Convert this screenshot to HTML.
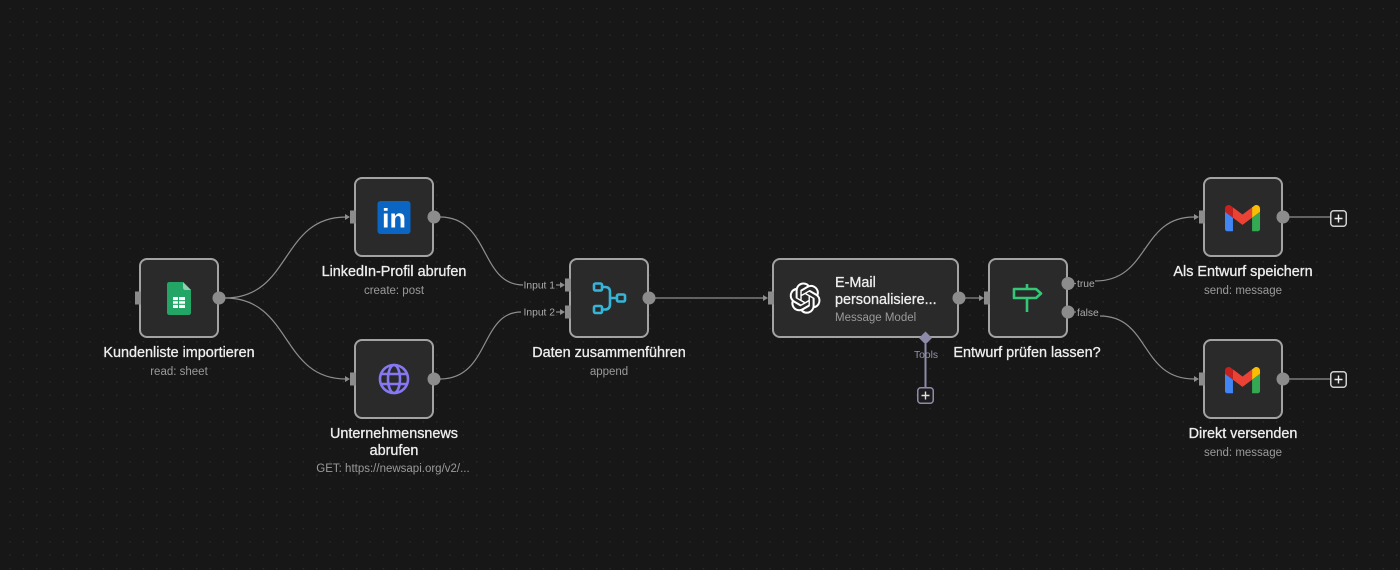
<!DOCTYPE html>
<html><head><meta charset="utf-8"><style>
html,body{margin:0;padding:0;background:#171717;}
svg{display:block;}
.t{font-family:"Liberation Sans",Arial,sans-serif;font-size:14.4px;fill:#eeeeee;stroke:#eeeeee;stroke-width:0.3;}
.s{font-family:"Liberation Sans",Arial,sans-serif;font-size:11.5px;fill:#9a9a9a;}
.l{font-family:"Liberation Sans",Arial,sans-serif;font-size:10.3px;fill:#ababab;}
.node{fill:#2a2a2a;stroke:#a3a3a3;stroke-width:2;}
.h{fill:#8c8c8c;}
.e{fill:none;stroke:#8e8e8e;stroke-width:1.2;}
</style></head><body>
<svg width="1400" height="570" viewBox="0 0 1400 570" xmlns="http://www.w3.org/2000/svg">
<defs>
<pattern id="dots" x="0" y="0" width="13.333" height="13.333" patternUnits="userSpaceOnUse">
<rect x="9.4" y="7.9" width="1.3" height="1.3" fill="#2e2e2e"/>
</pattern>
</defs>
<rect width="1400" height="570" fill="#171717"/>
<rect width="1400" height="570" fill="url(#dots)"/>

<!-- edges -->
<path class="e" d="M225,298 C292,298 280,217 346,217"/>
<path class="e" d="M225,298 C292,298 280,379 346,379"/>
<path class="e" d="M440,217 C490,217 480,285 523,285"/>
<path class="e" d="M440,379 C490,379 480,312 521,312"/>
<path class="e" d="M655,298 H764"/>
<path class="e" d="M965,298 H980"/>
<path class="e" d="M1095,281 C1150,281 1140,217 1194,217"/>
<path class="e" d="M1100,316 C1150,316 1140,379 1194,379"/>
<path class="e" d="M1068,283.5 H1076"/>
<path class="e" d="M1068,312 H1076"/>
<path class="e" d="M556,285 H562"/>
<path class="e" d="M556,312 H562"/>
<path class="e" d="M1289,217 H1330"/>
<path class="e" d="M1289,379 H1330"/>

<!-- arrowheads -->
<g fill="#8e8e8e">
<polygon points="345,214 350,217 345,220"/>
<polygon points="345,376 350,379 345,382"/>
<polygon points="560,282 565,285 560,288"/>
<polygon points="560,309 565,312 560,315"/>
<polygon points="763,295 768,298 763,301"/>
<polygon points="979,295 984,298 979,301"/>
<polygon points="1194,214 1199,217 1194,220"/>
<polygon points="1194,376 1199,379 1194,382"/>
<polygon points="130,295 135,298 130,301" opacity="0"/>
</g>

<!-- nodes -->
<rect class="node" x="140" y="259" width="78" height="78" rx="7"/>
<rect class="node" x="355" y="178" width="78" height="78" rx="7"/>
<rect class="node" x="355" y="340" width="78" height="78" rx="7"/>
<rect class="node" x="570" y="259" width="78" height="78" rx="7"/>
<rect class="node" x="773" y="259" width="185" height="78" rx="7"/>
<rect class="node" x="989" y="259" width="78" height="78" rx="7"/>
<rect class="node" x="1204" y="178" width="78" height="78" rx="7"/>
<rect class="node" x="1204" y="340" width="78" height="78" rx="7"/>

<!-- input handles -->
<rect class="h" x="135" y="291.5" width="6" height="13"/>
<rect class="h" x="350" y="210.5" width="6" height="13"/>
<rect class="h" x="350" y="372.5" width="6" height="13"/>
<rect class="h" x="565" y="278.5" width="6" height="13"/>
<rect class="h" x="565" y="305.5" width="6" height="13"/>
<rect class="h" x="768" y="291.5" width="6" height="13"/>
<rect class="h" x="984" y="291.5" width="6" height="13"/>
<rect class="h" x="1199" y="210.5" width="6" height="13"/>
<rect class="h" x="1199" y="372.5" width="6" height="13"/>

<!-- output handles -->
<circle class="h" cx="219" cy="298" r="6.5"/>
<circle class="h" cx="434" cy="217" r="6.5"/>
<circle class="h" cx="434" cy="379" r="6.5"/>
<circle class="h" cx="649" cy="298" r="6.5"/>
<circle class="h" cx="959" cy="298" r="6.5"/>
<circle class="h" cx="1068" cy="283.5" r="6.5"/>
<circle class="h" cx="1068" cy="312" r="6.5"/>
<circle class="h" cx="1283" cy="217" r="6.5"/>
<circle class="h" cx="1283" cy="379" r="6.5"/>

<!-- Tools connector -->
<path d="M925.5,344 V387" stroke="#8e8ba8" stroke-width="2" fill="none"/>
<polygon points="925.5,331.5 932,338 925.5,344.5 919,338" fill="#8e8ba8"/>
<rect x="917.75" y="387.75" width="15.5" height="15.5" rx="3" fill="#1c1c1f" stroke="#8e8ba8" stroke-width="1.5"/>
<path d="M925.5,391.5 V399.5 M921.5,395.5 H929.5" stroke="#e0e0e0" stroke-width="1.4"/>

<!-- plus boxes gmail -->
<rect x="1330.75" y="210.75" width="15.5" height="15.5" rx="3" fill="#1c1c1c" stroke="#cfcfcf" stroke-width="1.5"/>
<path d="M1338.5,214.5 V222.5 M1334.5,218.5 H1342.5" stroke="#eeeeee" stroke-width="1.4"/>
<rect x="1330.75" y="371.75" width="15.5" height="15.5" rx="3" fill="#1c1c1c" stroke="#cfcfcf" stroke-width="1.5"/>
<path d="M1338.5,375.5 V383.5 M1334.5,379.5 H1342.5" stroke="#eeeeee" stroke-width="1.4"/>

<!-- icons -->
<!-- sheets -->
<path d="M169.5,282 H183 L191,290 V312.5 Q191,315 188.5,315 H169.5 Q167,315 167,312.5 V284.5 Q167,282 169.5,282 Z" fill="#23a566"/>
<path d="M183,282 L191,290 H185.5 Q183,290 183,287.5 Z" fill="#8ed1b1"/>
<rect x="173" y="297" width="12" height="11" fill="#ffffff"/>
<path d="M173,300.7 H185 M173,304.3 H185 M178.5,297 V308" stroke="#23a566" stroke-width="1.1"/>

<!-- linkedin -->
<rect x="377.5" y="201" width="33" height="33" rx="3" fill="#0a66c2"/>
<text x="394" y="227.5" text-anchor="middle" font-family="Liberation Sans, Arial, sans-serif" font-weight="bold" font-size="27" fill="#ffffff">in</text>

<!-- globe -->
<g fill="none" stroke="#8678f2" stroke-width="2.6">
<circle cx="394" cy="379" r="14"/>
<ellipse cx="394" cy="379" rx="6" ry="14"/>
<path d="M381,374 H407 M381,384 H407"/>
</g>

<!-- merge -->
<g fill="none" stroke="#36b5d8" stroke-width="2.6">
<rect x="594" y="283.5" width="8" height="7" rx="1.5"/>
<rect x="594" y="306" width="8" height="7" rx="1.5"/>
<rect x="617" y="294.5" width="8" height="7" rx="1.5"/>
<path d="M602,287 H605 Q610,287 610,292 V304 Q610,309.5 605,309.5 H602 M610,298 H617"/>
</g>

<!-- openai -->
<g transform="translate(789.5,282.5) scale(1.3)">
<path fill="#ffffff" d="M22.2819 9.8211a5.9847 5.9847 0 0 0-.5157-4.9108 6.0462 6.0462 0 0 0-6.5098-2.9A6.0651 6.0651 0 0 0 4.9807 4.1818a5.9847 5.9847 0 0 0-3.9977 2.9 6.0462 6.0462 0 0 0 .7427 7.0966 5.98 5.98 0 0 0 .511 4.9107 6.051 6.051 0 0 0 6.5146 2.9001A5.9847 5.9847 0 0 0 13.2599 24a6.0557 6.0557 0 0 0 5.7718-4.2058 5.9894 5.9894 0 0 0 3.9977-2.9001 6.0557 6.0557 0 0 0-.7475-7.0729zm-9.022 12.6081a4.4755 4.4755 0 0 1-2.8764-1.0408l.1419-.0804 4.7783-2.7582a.7948.7948 0 0 0 .3927-.6813v-6.7369l2.02 1.1686a.071.071 0 0 1 .038.052v5.5826a4.504 4.504 0 0 1-4.4945 4.4944zm-9.6607-4.1254a4.4708 4.4708 0 0 1-.5346-3.0137l.142.0852 4.783 2.7582a.7712.7712 0 0 0 .7806 0l5.8428-3.3685v2.3324a.0804.0804 0 0 1-.0332.0615L9.74 19.9502a4.4992 4.4992 0 0 1-6.1408-1.6464zM2.3408 7.8956a4.485 4.485 0 0 1 2.3655-1.9728V11.6a.7664.7664 0 0 0 .3879.6765l5.8144 3.3543-2.0201 1.1685a.0757.0757 0 0 1-.071 0l-4.8303-2.7865A4.504 4.504 0 0 1 2.3408 7.872zm16.5963 3.8558L13.1038 8.364 15.1192 7.2a.0757.0757 0 0 1 .071 0l4.8303 2.7913a4.4944 4.4944 0 0 1-.6765 8.1042v-5.6772a.79.79 0 0 0-.407-.667zm2.0107-3.0231l-.142-.0852-4.7735-2.7818a.7759.7759 0 0 0-.7854 0L9.409 9.2297V6.8974a.0662.0662 0 0 1 .0284-.0615l4.8303-2.7866a4.4992 4.4992 0 0 1 6.6802 4.66zM8.3065 12.863l-2.02-1.1638a.0804.0804 0 0 1-.038-.0567V6.0742a4.4992 4.4992 0 0 1 7.3757-3.4537l-.142.0805L8.704 5.459a.7948.7948 0 0 0-.3927.6813zm1.0976-2.3654l2.602-1.4998 2.6069 1.4998v2.9994l-2.5974 1.4997-2.6067-1.4997Z"/>
</g>

<!-- if signpost -->
<g fill="none" stroke="#34c777" stroke-width="2.6" stroke-linejoin="round">
<path d="M1014,289 H1036 L1041,293.5 L1036,298 H1014 Z"/>
<path d="M1027,284 V289 M1027,298 V312"/>
</g>

<!-- gmail 1 -->
<g transform="translate(1225,205) scale(0.398) translate(-52,-42)">
<path fill="#4285f4" d="M58 108h14V74L52 59v43c0 3.32 2.69 6 6 6"/>
<path fill="#34a853" d="M120 108h14c3.32 0 6-2.69 6-6V59l-20 15"/>
<path fill="#fbbc04" d="M120 48v26l20-15v-8c0-7.42-8.47-11.650-14.4-7.2"/>
<path fill="#ea4335" d="M72 74V48l24 18 24-18v26L96 92"/>
<path fill="#c5221f" d="M52 51v8l20 15V48l-5.6-4.2c-5.94-4.45-14.4-.22-14.4 7.2"/>
</g>
<!-- gmail 2 -->
<g transform="translate(1225,367) scale(0.398) translate(-52,-42)">
<path fill="#4285f4" d="M58 108h14V74L52 59v43c0 3.32 2.69 6 6 6"/>
<path fill="#34a853" d="M120 108h14c3.32 0 6-2.69 6-6V59l-20 15"/>
<path fill="#fbbc04" d="M120 48v26l20-15v-8c0-7.42-8.47-11.650-14.4-7.2"/>
<path fill="#ea4335" d="M72 74V48l24 18 24-18v26L96 92"/>
<path fill="#c5221f" d="M52 51v8l20 15V48l-5.6-4.2c-5.94-4.45-14.4-.22-14.4 7.2"/>
</g>

<!-- labels -->
<text class="t" x="179" y="357" text-anchor="middle">Kundenliste importieren</text>
<text class="s" x="179" y="375" text-anchor="middle">read: sheet</text>

<text class="t" x="394" y="276" text-anchor="middle">LinkedIn-Profil abrufen</text>
<text class="s" x="394" y="294" text-anchor="middle">create: post</text>

<text class="t" x="394" y="438" text-anchor="middle">Unternehmensnews</text>
<text class="t" x="394" y="455" text-anchor="middle">abrufen</text>
<text class="s" x="393" y="472" text-anchor="middle">GET: https://newsapi.org/v2/...</text>

<text class="t" x="609" y="357" text-anchor="middle">Daten zusammenführen</text>
<text class="s" x="609" y="375" text-anchor="middle">append</text>
<text class="l" x="555" y="288.5" text-anchor="end">Input 1</text>
<text class="l" x="555" y="315.5" text-anchor="end">Input 2</text>

<text class="t" x="835" y="287">E-Mail</text>
<text class="t" x="835" y="304">personalisiere...</text>
<text class="s" x="835" y="321">Message Model</text>
<text class="l" x="926" y="358" text-anchor="middle" style="fill:#9390ad">Tools</text>

<text class="t" x="1027" y="357" text-anchor="middle">Entwurf prüfen lassen?</text>
<text class="l" x="1077" y="287">true</text>
<text class="l" x="1077" y="316">false</text>

<text class="t" x="1243" y="276" text-anchor="middle">Als Entwurf speichern</text>
<text class="s" x="1243" y="294" text-anchor="middle">send: message</text>

<text class="t" x="1243" y="438" text-anchor="middle">Direkt versenden</text>
<text class="s" x="1243" y="456" text-anchor="middle">send: message</text>
</svg>
</body></html>
